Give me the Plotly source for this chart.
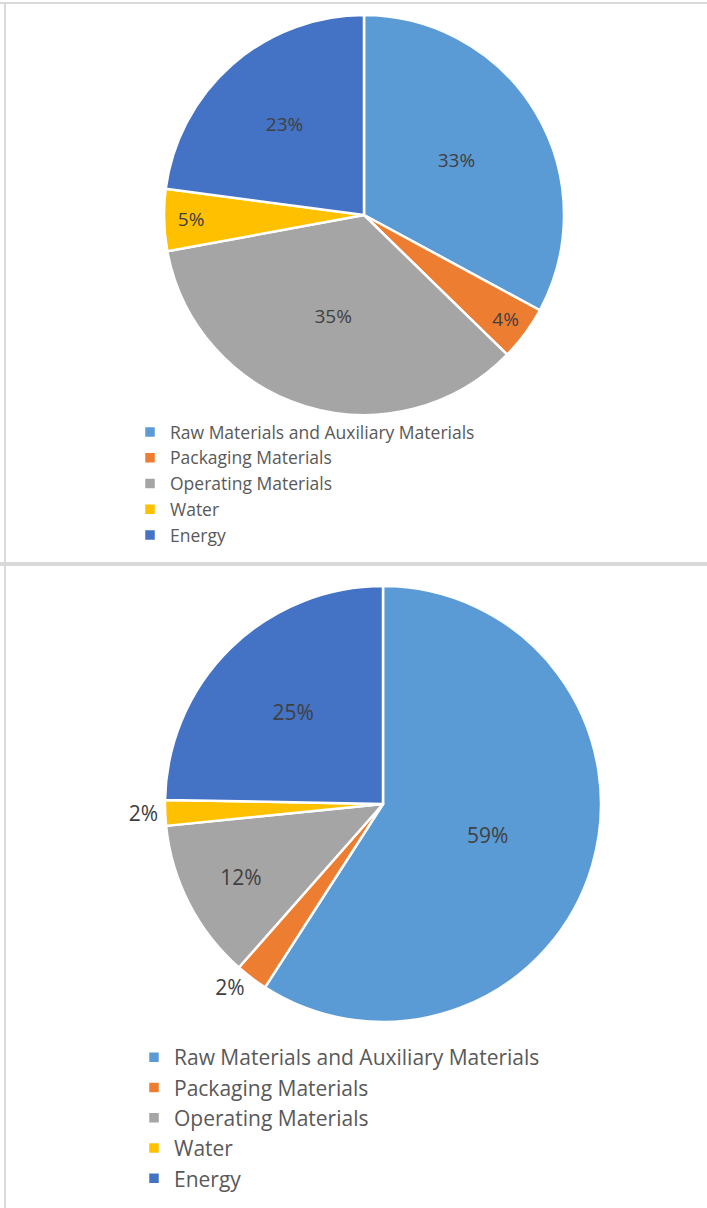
import plotly.graph_objects as go

categories = ["Raw Materials and Auxiliary Materials", "Packaging Materials",
              "Operating Materials", "Water", "Energy"]
colors = ["#5B9BD5", "#ED7D31", "#A5A5A5", "#FFC000", "#4472C4"]
values_top = [32.9, 4.4, 34.8, 5.0, 22.9]
values_bottom = [59.1, 2.4, 11.9, 1.9, 24.7]

W, H = 707, 1208

def px_x(a, b):
    return [a / W, b / W]

def px_y(top, bottom):
    return [1 - bottom / H, 1 - top / H]

# second chart's labels get a trailing space so its legend entries are kept separate
categories_bottom = [c + " " for c in categories]

fig = go.Figure()
fig.add_trace(go.Pie(
    labels=categories, values=values_top, sort=False, direction="clockwise", rotation=0,
    marker=dict(colors=colors, line=dict(color="white", width=2.5)),
    textinfo="percent", texttemplate="%{percent:.0%}", textposition="inside",
    insidetextorientation="horizontal",
    textfont=dict(family="Open Sans", size=19, color="#404040"),
    domain=dict(x=px_x(164, 564), y=px_y(15, 415)),
    legend="legend", hoverinfo="label+percent",
))
fig.add_trace(go.Pie(
    labels=categories_bottom, values=values_bottom, sort=False, direction="clockwise", rotation=0,
    marker=dict(colors=colors, line=dict(color="white", width=2.5)),
    textinfo="percent", texttemplate="%{percent:.0%}",
    textposition=["inside", "outside", "inside", "outside", "inside"],
    insidetextorientation="horizontal",
    textfont=dict(family="Open Sans", size=21, color="#404040"),
    domain=dict(x=px_x(165, 601), y=px_y(586, 1022)),
    legend="legend2", hoverinfo="label+percent",
))

fig.update_layout(
    width=W, height=H, margin=dict(l=0, r=0, t=0, b=0),
    paper_bgcolor="white", plot_bgcolor="white",
    font=dict(family="Open Sans", color="#595959"),
    legend=dict(x=130 / W, y=1 - 414 / H, xanchor="left", yanchor="top",
                font=dict(size=17.5, color="#595959"), bgcolor="rgba(0,0,0,0)"),
    legend2=dict(x=134 / W, y=1 - 1037 / H, xanchor="left", yanchor="top",
                 font=dict(size=21, color="#595959"), bgcolor="rgba(0,0,0,0)"),
    shapes=[
        dict(type="line", xref="paper", yref="paper", x0=0, x1=1, y0=1 - 3 / H, y1=1 - 3 / H,
             line=dict(color="#D9D9D9", width=2)),
        dict(type="line", xref="paper", yref="paper", x0=5 / W, x1=5 / W, y0=0, y1=1 - 3 / H,
             line=dict(color="#D9D9D9", width=2)),
        dict(type="line", xref="paper", yref="paper", x0=0, x1=1, y0=1 - 564 / H, y1=1 - 564 / H,
             line=dict(color="#D9D9D9", width=4)),
    ],
)

fig.write_html("out.html", config={"displayModeBar": False},
               post_script="document.body.style.margin='0';")
